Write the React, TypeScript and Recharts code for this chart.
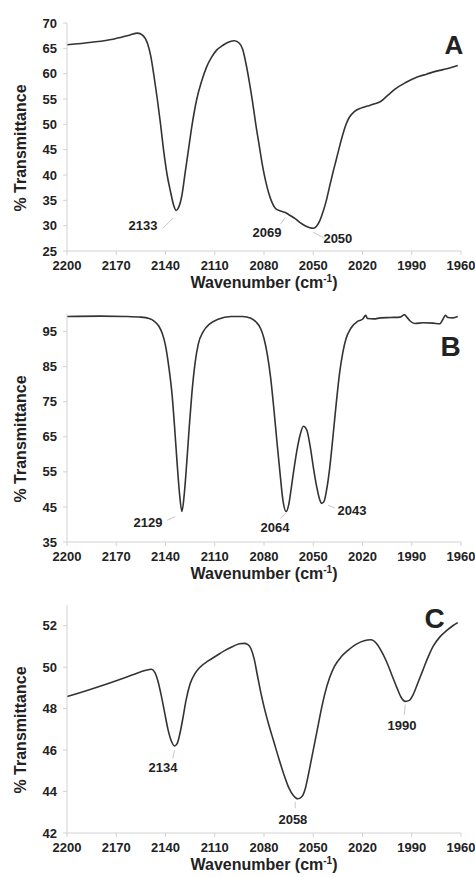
import { LineChart, Line, XAxis, YAxis, ReferenceDot, ReferenceLine } from "recharts";

const FONT = "'Liberation Sans', Arial, sans-serif";
const INK = "#222";
const AXIS = "#d2d2d2";

const waveTicks = [2200, 2170, 2140, 2110, 2080, 2050, 2020, 1990, 1960];

// Panel A
const waveA = [
  2200, 2185, 2172, 2162, 2157, 2154, 2151, 2149, 2147, 2145, 2143, 2141, 2139, 2137, 2135, 2133.5,
  2132, 2130, 2128, 2126, 2124, 2121, 2118, 2115, 2112, 2109, 2105, 2101, 2098, 2095, 2093, 2091,
  2089, 2087, 2085, 2083, 2081, 2079, 2077, 2075, 2073, 2070, 2067, 2064, 2061, 2058, 2055, 2052,
  2050, 2048, 2046, 2044, 2042, 2040, 2038, 2036, 2034, 2032, 2030, 2028, 2025, 2021, 2017, 2013,
  2009, 2005, 2000, 1994, 1987, 1981, 1975, 1968, 1962,
];
const transA = [
  65.7, 66.2, 66.8, 67.6, 68.0, 67.6, 66.0, 63.5, 59.5, 55.0, 50.0, 44.5, 40.0, 36.8, 34.0, 33.0,
  33.6, 36.0, 40.5, 45.0, 49.5, 54.9, 58.5, 61.3, 63.2, 64.6, 65.6, 66.3, 66.5, 66.0, 64.8, 62.0,
  58.5, 54.5, 50.0, 46.0, 42.0, 38.8, 36.3, 34.5, 33.4, 32.9, 32.6, 32.0, 31.4, 30.6, 30.0, 29.6,
  29.5, 29.9, 31.0, 32.8, 35.0, 37.8, 40.5, 43.0, 45.6, 48.0, 50.0, 51.4, 52.5, 53.2, 53.6, 54.0,
  54.5, 55.6, 57.0, 58.2, 59.3, 59.9, 60.5, 61.0, 61.6,
];
const ticksA = [25, 30, 35, 40, 45, 50, 55, 60, 65, 70];
const peakTextA = ["2133", "2069", "2050"];
const peakWaveA = [2153.7, 2078.2, 2035];
const peakTransA = [30.1, 28.7, 27.4];
const leaderA = [
  [2141.5, 29.5, 2135.4, 31.5],
  [2070, 30.3, 2067, 31.6],
  [2050.2, 28.7, 2043, 27.5],
];

// Panel B
const waveB = [
  2200, 2180, 2165, 2155, 2150, 2147, 2144, 2142, 2140, 2138, 2136, 2134.5, 2133, 2131.5, 2130,
  2128.5, 2127, 2125.5, 2124, 2122, 2120, 2117, 2113, 2108, 2100, 2093, 2088, 2085, 2082, 2080,
  2078, 2076, 2074, 2072, 2070, 2068.5, 2066.5, 2065, 2063.5, 2062, 2060, 2058, 2056, 2054, 2052,
  2050, 2048, 2046, 2045, 2043.5, 2042, 2040, 2038, 2036, 2034, 2032, 2030, 2027, 2023, 2020, 2018,
  2017, 2013, 2009, 2003, 1997, 1994.5, 1993, 1991, 1988, 1983, 1977, 1973, 1971, 1969.5, 1968,
  1965, 1962,
];
const transB = [
  99.3, 99.4, 99.3, 99.1, 98.7, 98.0, 96.5, 94.5, 91.0, 85.0, 77.0, 68.0, 58.0, 49.0, 43.7,
  49.0, 58.0, 68.0, 77.0, 86.0, 91.5, 95.0, 97.2, 98.5, 99.3, 99.3, 98.8, 97.8, 95.8, 93.0,
  88.5, 82.0, 73.0, 63.0, 53.5, 47.0, 43.7, 45.5, 50.0, 55.0, 61.0, 65.5, 68.0, 67.0, 62.6,
  56.5, 51.0, 47.0, 46.0, 46.5, 49.5, 56.0, 65.0, 74.5, 83.0, 89.0, 93.0, 96.0, 97.9, 98.5, 99.6,
  98.7, 98.6, 98.9, 99.0, 99.1, 99.8, 99.1, 98.0, 97.3, 97.5, 97.4, 97.2, 98.5, 99.6, 99.0,
  98.9, 99.3,
];
const ticksB = [35, 45, 55, 65, 75, 85, 95];
const peakTextB = ["2129", "2064", "2043"];
const peakWaveB = [2150.7, 2073.3, 2026.4];
const peakTransB = [40.7, 39.0, 44.0];
const leaderB = [
  [2139, 41.2, 2134, 42.2],
  [2070, 41.8, 2066.5, 43.2],
  [2041, 45.5, 2036.8, 44.7],
];

// Panel C
const waveC = [
  2200, 2185, 2170, 2160, 2152, 2148.5, 2146.5, 2144.5, 2142.5, 2140.5, 2138.5, 2136.5, 2134.5,
  2133, 2131.5, 2129.5, 2127.5, 2125, 2122, 2119, 2114, 2109, 2104, 2099, 2095, 2092, 2090, 2088,
  2086, 2084, 2082, 2080, 2077, 2074, 2071, 2068, 2065, 2062, 2059.5, 2057, 2055, 2053, 2051, 2049,
  2047, 2045, 2043, 2040, 2037, 2033, 2029, 2024, 2019, 2015, 2011, 2008, 2005, 2002, 1999, 1996.5,
  1994, 1991.5, 1989, 1986, 1983, 1980, 1977, 1973, 1969, 1965, 1962,
];
const transC = [
  48.58, 48.95, 49.35, 49.63, 49.85, 49.9, 49.75, 49.3, 48.6, 47.8, 47.0, 46.45, 46.2,
  46.3, 46.7, 47.5, 48.4, 49.2, 49.7, 50.0, 50.3, 50.55, 50.8, 51.0, 51.13, 51.15, 51.1, 50.9,
  50.4, 49.6, 48.8, 48.1, 47.2, 46.4, 45.6, 44.85, 44.2, 43.8, 43.65, 43.75, 44.1, 44.8, 45.6, 46.4,
  47.2, 48.0, 48.7, 49.5, 50.05, 50.5, 50.8, 51.1, 51.28, 51.32, 51.1, 50.7, 50.2, 49.6, 49.0, 48.55,
  48.35, 48.4, 48.7, 49.3, 49.9, 50.5, 51.0, 51.45, 51.75, 52.0, 52.15,
];
const ticksC = [42, 44, 46, 48, 50, 52];
const peakTextC = ["2134", "2058", "1990"];
const peakWaveC = [2141.5, 2062.4, 1996];
const peakTransC = [45.16, 42.67, 47.17];
const leaderC = [
  [2134.5, 46.0, 2135.5, 45.6],
  [2061, 43.5, 2061, 43.2],
  [1994, 48.2, 1994.5, 47.7],
];

function XTitle(props: any) {
  const vb = props.viewBox ?? props;
  const cx = vb.x + vb.width / 2;
  const y = vb.y + 37;
  return (
    <text x={cx} y={y} textAnchor="middle" fill={INK} fontFamily={FONT} fontWeight={700} fontSize={16}>
      Wavenumber (cm
      <tspan fontSize={10} dy={-6}>-1</tspan>
      <tspan dy={6}>)</tspan>
    </text>
  );
}

function YTitle(props: any) {
  const vb = props.viewBox ?? props;
  // the reference sets the title a little below the middle of the plot
  const cy = vb.y + vb.height / 2 + 11;
  return (
    <text
      x={20}
      y={cy}
      transform={`rotate(-90, 20, ${cy})`}
      textAnchor="middle"
      dominantBaseline="central"
      fill={INK}
      fontFamily={FONT}
      fontWeight={700}
      fontSize={16}
    >
      % Transmittance
    </text>
  );
}

function TagText(props: any) {
  const vb = props.viewBox ?? props;
  return (
    <text
      x={vb.x + (vb.width ?? 0) / 2}
      y={vb.y + (vb.height ?? 0) / 2}
      textAnchor="middle"
      dominantBaseline="central"
      fill={INK}
      fontFamily={FONT}
      fontWeight={700}
      fontSize={props.size}
    >
      {props.text}
    </text>
  );
}

interface PanelProps {
  height: number;
  top: number;
  xHeight: number;
  domain: [number, number];
  yTicks: number[];
  wave: number[];
  trans: number[];
  peakText: string[];
  peakWave: number[];
  peakTrans: number[];
  leaders: number[][];
  letter: string;
  letterAt: [number, number];
  letterSize: number;
}

function Panel(p: PanelProps) {
  const data = p.wave.map((wn, i) => ({ wn, t: p.trans[i] }));
  const tick = { fill: INK, fontSize: 13, fontWeight: 700, fontFamily: FONT };
  return (
    <LineChart
      width={475}
      height={p.height}
      data={data}
      margin={{ top: p.top, right: 14, left: 0, bottom: 0 }}
    >
      <XAxis
        type="number"
        dataKey="wn"
        domain={[1960, 2200]}
        reversed
        ticks={waveTicks}
        interval={0}
        allowDataOverflow
        height={p.xHeight}
        stroke={AXIS}
        tickLine={{ stroke: AXIS }}
        tickSize={4}
        tickMargin={6}
        tick={tick}
        label={(lp: any) => <XTitle {...lp} />}
      />
      <YAxis
        type="number"
        domain={p.domain}
        ticks={p.yTicks}
        interval={0}
        allowDataOverflow
        width={67}
        stroke={AXIS}
        tickLine={{ stroke: AXIS }}
        tickSize={4}
        tickMargin={6}
        tick={tick}
        label={(lp: any) => <YTitle {...lp} />}
      />
      {p.leaders.map((l, i) => (
        <ReferenceLine
          key={`l${i}`}
          segment={[
            { x: l[0], y: l[1] },
            { x: l[2], y: l[3] },
          ]}
          stroke="#c8c8c8"
          strokeWidth={1}
          ifOverflow="visible"
        />
      ))}
      <Line
        dataKey="t"
        type="monotone"
        stroke="#333"
        strokeWidth={1.6}
        dot={false}
        activeDot={false}
        isAnimationActive={false}
      />
      {p.peakText.map((txt, i) => (
        <ReferenceDot
          key={`p${i}`}
          x={p.peakWave[i]}
          y={p.peakTrans[i]}
          r={0}
          fill="none"
          stroke="none"
          ifOverflow="visible"
          label={(lp: any) => <TagText {...lp} text={txt} size={13} />}
        />
      ))}
      <ReferenceDot
        x={p.letterAt[0]}
        y={p.letterAt[1]}
        r={0}
        fill="none"
        stroke="none"
        ifOverflow="visible"
        label={(lp: any) => <TagText {...lp} text={p.letter} size={p.letterSize} />}
      />
    </LineChart>
  );
}

export default function App() {
  return (
    <div style={{ position: "absolute", left: 0, top: 0, width: 475, height: 877, background: "#fff" }}>
      <style>{`.recharts-surface { overflow: visible; }`}</style>
      <Panel
        height={290}
        top={23}
        xHeight={39}
        domain={[25, 70]}
        yTicks={ticksA}
        wave={waveA}
        trans={transA}
        peakText={peakTextA}
        peakWave={peakWaveA}
        peakTrans={peakTransA}
        leaders={leaderA}
        letter="A"
        letterAt={[1964.3, 65.7]}
        letterSize={26}
      />
      <Panel
        height={290}
        top={24}
        xHeight={38}
        domain={[35, 100]}
        yTicks={ticksB}
        wave={waveB}
        trans={transB}
        peakText={peakTextB}
        peakWave={peakWaveB}
        peakTrans={peakTransB}
        leaders={leaderB}
        letter="B"
        letterAt={[1966.4, 90.6]}
        letterSize={28}
      />
      <Panel
        height={297}
        top={25}
        xHeight={44}
        domain={[42, 53]}
        yTicks={ticksC}
        wave={waveC}
        trans={transC}
        peakText={peakTextC}
        peakWave={peakWaveC}
        peakTrans={peakTransC}
        leaders={leaderC}
        letter="C"
        letterAt={[1976, 52.36]}
        letterSize={28}
      />
    </div>
  );
}
